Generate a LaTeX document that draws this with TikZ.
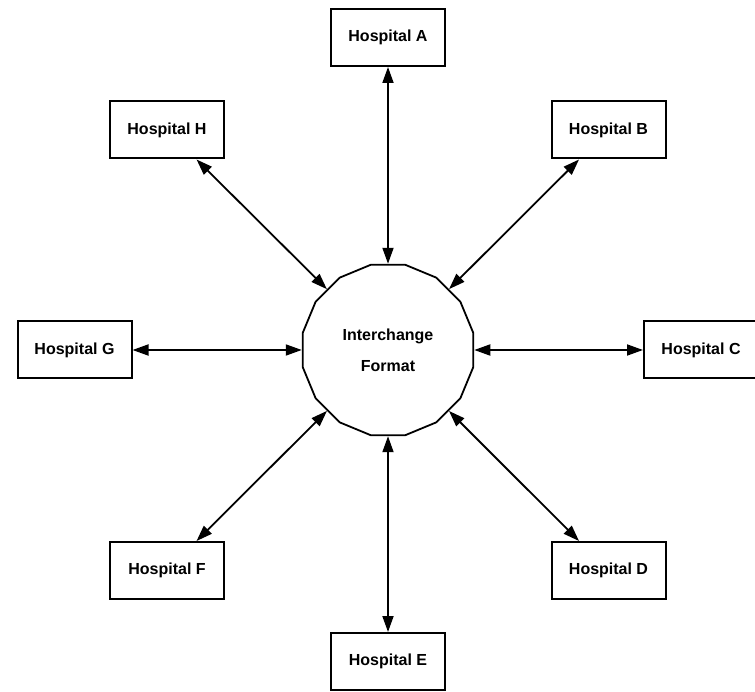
\documentclass[tikz,border=0pt]{standalone}
\usepackage{fontspec}
\setmainfont{Liberation Sans}
\usetikzlibrary{arrows.meta,shapes.geometric}
\begin{document}
\begin{tikzpicture}[x=1pt,y=-1pt,
  site/.style={draw, line width=2pt, rectangle, minimum width=114pt,
    minimum height=57pt, inner sep=0pt,
    font=\bfseries\fontsize{16}{19}\selectfont},
  hubshape/.style={draw, line width=1.8pt, regular polygon,
    regular polygon sides=16, minimum size=174pt, inner sep=0pt,
    align=center, font=\bfseries\fontsize{16}{31}\selectfont},
  link/.style={line width=1.8pt,
    {Triangle[length=16pt,width=11pt]}-{Triangle[length=16pt,width=11pt]}}]
\useasboundingbox (0,0) rectangle (755,692);
\fill[white] (0,0) rectangle (755,692);

% central exchange format
\node[hubshape] (hub) at (388,350) {Interchange\\Format};

% participating hospitals
\node[site] (A) at (388,37.5)   {Hospital A};
\node[site] (B) at (608.5,130)  {Hospital B};
\node[site] (C) at (701,350)    {Hospital C};
\node[site] (D) at (608.5,570.5){Hospital D};
\node[site] (E) at (388,661.5)  {Hospital E};
\node[site] (F) at (167,570.5)  {Hospital F};
\node[site] (G) at (74.5,350)   {Hospital G};
\node[site] (H) at (167,130)    {Hospital H};

% two-way links
\foreach \h in {A,B,C,D,E,F,G,H}
  \draw[link] (hub) -- (\h);
\end{tikzpicture}
\end{document}
